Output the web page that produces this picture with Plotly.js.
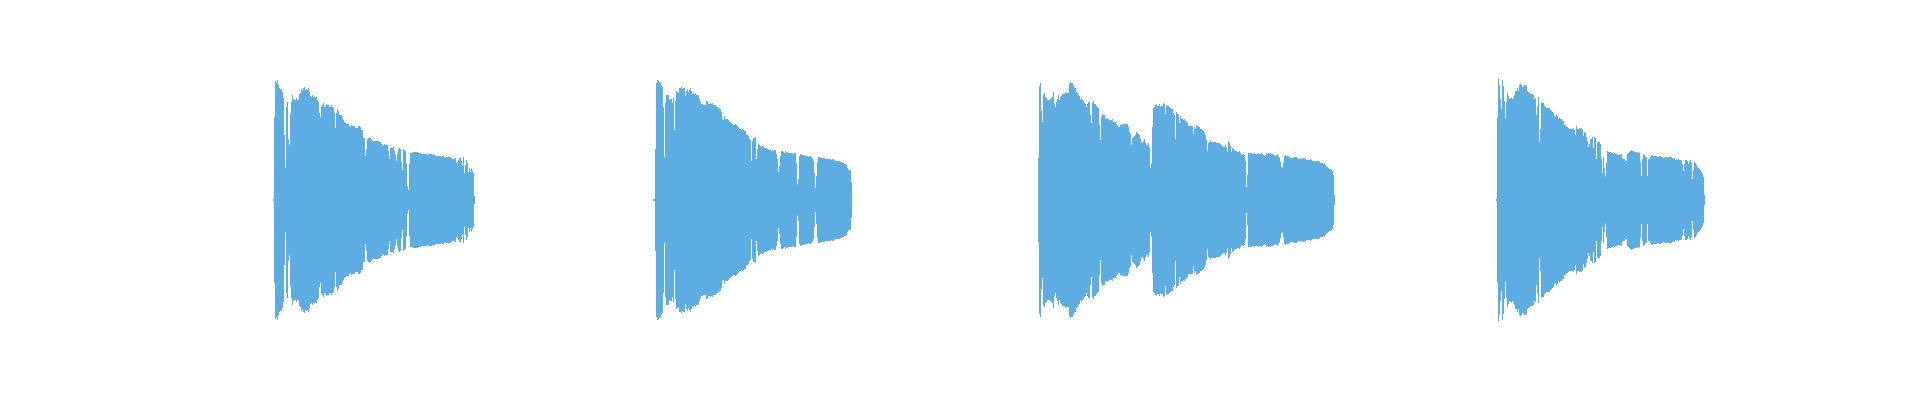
<!DOCTYPE html>
<html>
<head>
<meta charset="utf-8">
<script src="https://cdn.plot.ly/plotly-3.0.1.min.js"></script>
<style>html,body{margin:0;padding:0;background:#fff;}#chart{width:1920px;height:400px;}</style>
</head>
<body>
<div id="chart"></div>
<script>
// Envelope amplitude (per 10 ms column) of four recordings
const sampleStep = 0.01; // seconds per envelope column
const clipStarts = [2.73, 6.53, 10.38, 14.96]; // seconds

const clip1Amp = [
1,83,119,117,120,115,112,111,110,108,
102,65,32,93,98,61,55,86,98,105,
101,100,100,102,100,100,106,107,111,109,
112,113,110,111,110,112,108,104,103,105,
103,103,102,103,100,98,87,83,93,95,
97,93,94,96,95,95,93,93,95,93,
92,87,72,87,91,89,85,85,85,82,
80,78,77,76,76,76,74,73,75,74,
74,74,72,72,72,74,74,73,70,70,
62,62,44,51,61,62,63,62,61,59,
59,59,59,59,59,59,58,58,56,54,
55,56,55,55,55,49,41,52,52,52,
53,49,45,39,46,51,52,51,38,30,
51,50,49,37,14,10,36,47,47,47,
48,48,48,48,48,47,47,47,46,46,
46,46,46,46,45,46,46,46,46,45,
46,45,44,44,44,44,44,44,43,44,
44,43,42,43,43,43,43,43,42,41,
41,41,42,37,38,40,42,42,39,34,
43,27,35,40,37,28,31,28,31,29,
27,4];

const clip2Amp = [
1,1,51,117,120,119,118,117,114,113,
93,43,97,105,105,105,100,101,101,97,
102,70,99,109,108,107,112,112,113,111,
112,112,104,109,111,108,110,112,109,106,
106,105,106,105,105,105,101,98,96,96,
95,95,95,99,99,96,96,97,96,97,
95,95,95,93,93,91,92,91,88,81,
80,84,81,81,81,80,78,78,77,76,
75,75,76,75,74,73,71,71,70,71,
70,69,69,65,65,64,61,60,39,59,
62,62,63,41,51,56,55,54,53,54,
53,52,52,52,51,51,50,50,49,50,
49,50,50,46,41,28,34,44,49,49,
48,47,49,47,48,47,47,47,47,46,
46,47,47,37,15,21,44,46,45,45,
45,44,44,44,44,43,44,44,43,42,
39,27,12,24,38,43,43,43,42,42,
42,42,41,41,41,41,41,41,40,41,
41,40,39,39,39,39,39,38,38,37,
37,36,36,35,32,30,30,30,18];

const clip3Amp = [
42,114,117,89,78,105,107,103,102,100,
100,100,101,102,103,108,96,93,98,101,
105,100,103,104,106,106,106,108,107,107,
107,116,118,117,117,115,112,112,108,107,
105,104,100,102,100,99,97,96,93,96,
98,98,85,77,97,99,96,96,94,93,
92,75,60,83,86,85,85,81,82,81,
81,79,80,80,81,78,78,78,76,75,
73,73,75,75,76,76,76,76,76,76,
73,68,66,55,62,63,64,65,68,67,
66,65,61,58,57,59,61,58,55,55,
57,53,32,37,73,92,93,95,95,94,
94,96,93,94,94,97,96,86,95,94,
94,93,92,91,91,87,85,61,88,86,
86,77,84,81,82,80,81,79,78,77,
74,74,74,74,74,66,73,71,75,74,
73,73,71,71,70,69,67,65,60,49,
57,58,60,58,58,58,58,58,57,57,
57,57,56,55,54,53,53,55,53,48,
59,57,54,48,52,51,50,49,49,48,
48,49,47,45,45,46,45,39,13,25,
47,47,47,46,46,46,47,46,46,46,
46,46,46,47,46,45,44,45,47,46,
47,46,47,46,46,45,45,44,45,46,
43,42,38,33,32,38,44,45,44,44,
44,43,42,42,42,42,43,43,43,42,
41,41,42,41,41,42,42,41,40,40,
40,40,41,40,39,39,39,38,39,39,
39,38,37,37,37,36,37,35,33,33,
32,31,31,30,29,25,5];

const clip4Amp = [
1,82,121,115,101,91,120,114,99,82,
98,107,104,101,102,102,101,102,105,109,
109,112,109,115,116,115,113,113,115,114,
115,109,108,107,106,106,106,105,101,102,
85,94,103,58,71,98,97,97,94,93,
92,92,92,92,90,89,88,87,84,83,
86,84,81,82,81,81,79,79,75,75,
73,73,72,71,71,71,71,72,70,65,
74,71,71,72,71,72,70,64,68,67,
63,59,53,56,61,61,63,52,63,62,
41,57,59,58,56,41,27,43,32,23,
37,49,48,48,48,47,47,46,47,46,
46,45,45,45,45,46,42,41,41,39,
39,46,47,48,49,50,49,49,48,48,
48,47,48,47,38,24,41,46,45,43,
43,24,41,41,43,45,45,44,44,44,
44,43,43,44,44,43,43,42,42,43,
43,42,43,43,43,43,42,41,42,40,
41,40,41,40,40,39,36,29,36,40,
40,39,36,39,40,37,21,30,38,37,
35,33,32,31,30,28,26,23,5];

const clips = [clip1Amp, clip2Amp, clip3Amp, clip4Amp];
const waveColor = '#5DADE2';

const traces = clips.map((amp, k) => ({
  type: 'bar',
  x: amp.map((_, i) => clipStarts[k] + i * sampleStep + sampleStep / 2),
  y: amp.map(a => 2 * a),
  base: amp.map(a => -a),
  width: sampleStep,
  marker: {color: waveColor, line: {width: 0}},
  hoverinfo: 'skip',
  showlegend: false
}));

const layout = {
  width: 1920,
  height: 400,
  margin: {l: 0, r: 0, t: 0, b: 0, pad: 0},
  paper_bgcolor: '#ffffff',
  plot_bgcolor: '#ffffff',
  bargap: 0,
  barmode: 'overlay',
  showlegend: false,
  xaxis: {range: [0, 19.2], visible: false, fixedrange: true},
  yaxis: {range: [-200, 200], visible: false, fixedrange: true}
};

Plotly.newPlot('chart', traces, layout, {displayModeBar: false, staticPlot: true});
</script>
</body>
</html>
